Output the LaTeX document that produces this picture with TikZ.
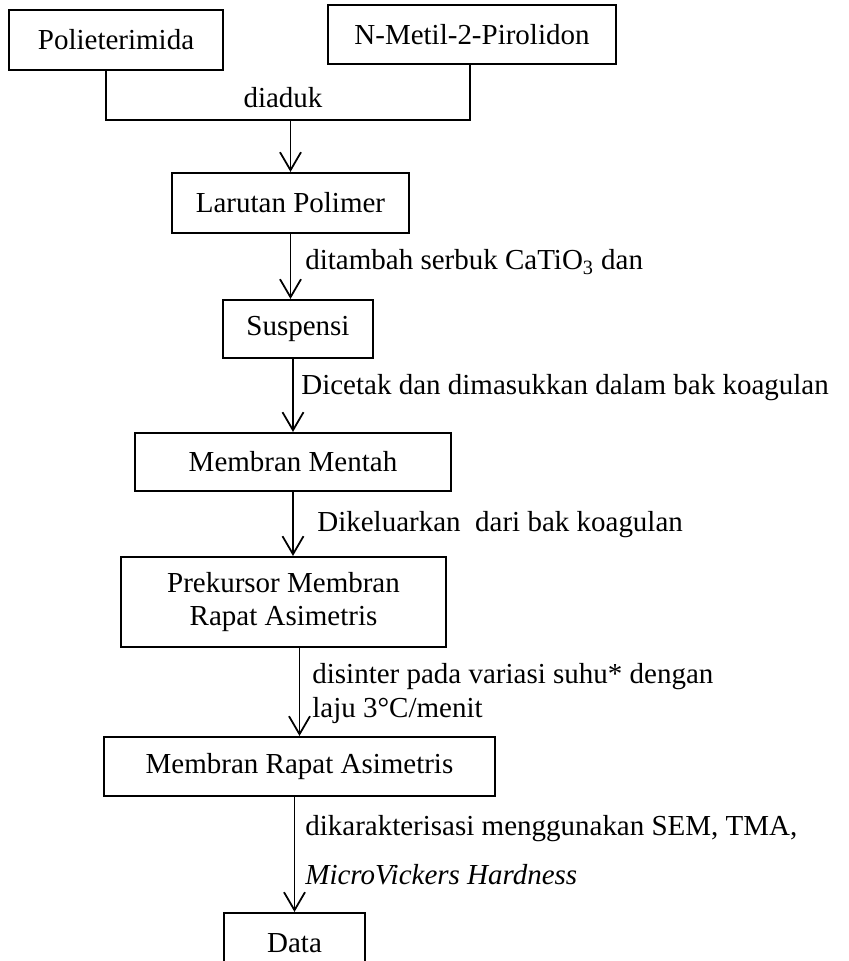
\documentclass[tikz,border=0pt]{standalone}
\usepackage{fontspec}
\setmainfont{Liberation Serif}
\usetikzlibrary{arrows.meta}

\begin{document}
\begin{tikzpicture}[
		box/.style={draw,line width=1.2pt,inner sep=0pt,align=center},
		flow/.style={line width=1pt,-{Straight Barb[length=0.36cm,width=0.42cm]}},
		note/.style={anchor=west,inner sep=0pt,align=left},
		font=\fontsize{16.5}{19}\selectfont]
	\useasboundingbox (0,0) rectangle (16.98,19.22);
	\clip (0,0) rectangle (16.98,19.22);

	\node[box,minimum width=4.28cm,minimum height=1.2cm] (poli) at (2.32,18.42) {Polieterimida};
	\node[box,minimum width=5.76cm,minimum height=1.18cm] (nmp) at (9.44,18.53) {N-Metil-2-Pirolidon};
	\node[box,minimum width=4.74cm,minimum height=1.2cm] (larutan) at (5.81,15.16) {Larutan Polimer};
	\node[box,minimum width=3cm,minimum height=1.16cm] (suspensi) at (5.96,12.64) {Suspensi};
	\node[box,minimum width=6.32cm,minimum height=1.16cm] (mentah) at (5.86,9.98) {Membran Mentah};
	\node[box,minimum width=6.5cm,minimum height=1.8cm] (prekursor) at (5.67,7.18) {Prekursor Membran\\Rapat Asimetris};
	\node[box,minimum width=7.82cm,minimum height=1.18cm] (rapat) at (5.99,3.89) {Membran Rapat Asimetris};
	\node[box,minimum width=2.82cm,minimum height=1.2cm] (data) at (5.89,0.36) {Data};

	\coordinate (jl) at (2.12,16.82);%under Polieterimida
	\coordinate (jr) at (9.40,16.82);%under N-Metil-2-Pirolidon

	\draw[line width=1.2pt] (poli.south -| jl) -- (jl) -- (jr) -- (nmp.south -| jr);
	\draw[flow] (larutan.north |- jl) -- (larutan.north);
	\draw[flow] (larutan.south) -- (larutan.south |- suspensi.north);
	\draw[flow] (mentah.north |- suspensi.south) -- (mentah.north);
	\draw[flow] (mentah.south) -- (mentah.south |- prekursor.north);
	\draw[flow] (rapat.north |- prekursor.south) -- (rapat.north);
	\draw[flow] (data.north |- rapat.south) -- (data.north);

	\node[note,anchor=center] (aduk) at (5.66,17.26) {diaduk};
	\node[note] (tambah) at (6.10,13.98) {ditambah serbuk CaTiO\textsubscript{3} dan};
	\node[note] (cetak) at (6.02,11.46) {Dicetak dan dimasukkan dalam bak koagulan};
	\node[note] (keluar) at (6.34,8.72) {Dikeluarkan\ \ dari bak koagulan};
	\node[note] (sinter) at (6.24,5.35) {disinter pada variasi suhu* dengan\\laju 3°C/menit};
	\node[note] (uji) at (6.10,2.22) {dikarakterisasi menggunakan SEM, TMA,\\[9pt]\textit{MicroVickers Hardness}};
\end{tikzpicture}
\end{document}
